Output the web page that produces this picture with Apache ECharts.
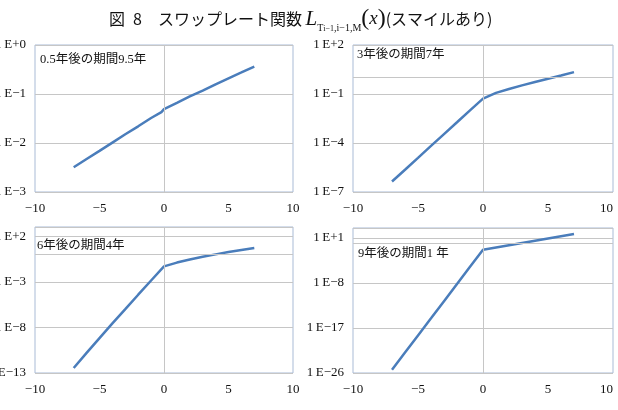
<!DOCTYPE html>
<html>
<head>
<meta charset="utf-8">
<script src="https://cdn.jsdelivr.net/npm/echarts@6/dist/echarts.min.js"></script>
<style>
html,body{margin:0;padding:0;background:#fff;}
#chart{width:618px;height:410px;}
</style>
</head>
<body>
<div id="chart"></div>
<script>
// x values (shared) and panel-1 x values (includes the small step just before 0)
var xs = [-7, -6, -5, -4, -3, -2, -1, 0, 1, 2, 3, 4, 5, 6, 7];
var xs1 = [-7, -6, -5, -4, -3, -2, -1, -0.2, 0, 1, 2, 3, 4, 5, 6, 7];

// panel titles
var panelLabels = ['0.5年後の期間9.5年', '3年後の期間7年', '6年後の期間4年', '9年後の期間1 年'];

// series values
var vals1 = [0.0032, 0.0047, 0.0069, 0.0102, 0.0151, 0.0219, 0.0324, 0.0427, 0.049, 0.066, 0.089, 0.117, 0.158, 0.209, 0.275, 0.363];
var vals2 = [4.4e-7, 2.3e-6, 1.23e-5, 6.6e-5, 3.5e-4, 1.86e-3, 1.0e-2, 5.2e-2, 0.117, 0.204, 0.339, 0.537, 0.85, 1.35, 2.19];
var vals3 = [3.5e-13, 1.6e-11, 6.6e-10, 2.7e-8, 1.0e-6, 3.8e-5, 1.38e-3, 4.9e-2, 0.126, 0.269, 0.537, 1.0, 1.78, 3.02, 5.01];
var vals4 = [4.4e-26, 1.2e-22, 3.2e-19, 8.5e-16, 2.3e-12, 6.2e-9, 1.7e-5, 4.5e-2, 0.126, 0.355, 1.0, 2.82, 7.94, 22.4, 63.1];

// axis settings
var xTicks = [-10, -5, 0, 5, 10];
var yMin = [1e-3, 1e-7, 1e-13, 1e-26];
var yMax = [1e0, 1e2, 1e3, 1e3];
var yStepDecades = [1, 3, 5, 9];
var refX = 0;   // vertical reference line
var refY = 1;   // horizontal reference line (1E+0)

var serif = '"Liberation Serif", "Times New Roman", serif';
var mixed = '"Liberation Serif", "Noto Sans CJK JP", serif';

var grids = [
  {left: 35, top: 45, width: 258, height: 147},
  {left: 353, top: 45, width: 260, height: 147},
  {left: 35, top: 227, width: 258, height: 146},
  {left: 353, top: 228, width: 260, height: 145}
];
var labelPos = [[40, 61], [357, 56], [37, 247], [358, 255]];

// panel 4 spans 29 decades; ECharts' log scale rounds ticks below 1e-10 to 0,
// so that panel uses a value axis over log10 of the same values.
var useExp = [false, false, false, true];

function fmtX(v) { return v < 0 ? '\u2212' + (-v) : '' + v; }
function expLabel(e) { return '1\u2009E' + (e >= 0 ? '+' : '\u2212') + Math.abs(e); }
function fmtY(v) { return expLabel(Math.round(Math.log10(v))); }
function fmtYexp(v) { return expLabel(Math.round(v)); }

var allVals = [vals1, vals2, vals3, vals4];
var allXs = [xs1, xs, xs, xs];
var seriesData = allVals.map(function (vals, p) {
  return allXs[p].map(function (x, i) {
    return [x, useExp[p] ? Math.log10(vals[i]) : vals[i]];
  });
});

var option = {
  animation: false,
  backgroundColor: '#fff',
  title: {
    left: 104, top: 0,
    text: '{a|図\u20028\u3000スワップレート関数 }{L|L}{s|T}{ss|i\u22121}{s|,i\u22121,M}{p|(}{x|x}{p|)}{a|(スマイルあり)}',
    textStyle: {
      fontWeight: 'normal',
      rich: {
        a: {fontSize: 16, fontWeight: 'normal', fontFamily: '"Noto Sans CJK JP", sans-serif', color: '#111', lineHeight: 28},
        L: {fontSize: 21, fontWeight: 'normal', fontStyle: 'italic', fontFamily: serif, color: '#111', lineHeight: 28},
        s: {fontSize: 10, fontWeight: 'normal', fontFamily: serif, color: '#111', verticalAlign: 'bottom', lineHeight: 14},
        ss: {fontSize: 8, fontWeight: 'normal', fontFamily: serif, color: '#111', verticalAlign: 'bottom', lineHeight: 8},
        p: {fontSize: 24, fontWeight: 'normal', fontFamily: serif, color: '#111', lineHeight: 28},
        x: {fontSize: 19, fontWeight: 'normal', fontStyle: 'italic', fontFamily: serif, color: '#111', lineHeight: 28}
      }
    }
  },
  grid: grids.map(function (g) {
    return Object.assign({show: true, borderColor: '#a9bbd6', borderWidth: 1, backgroundColor: '#fff',
                          containLabel: false, outerBoundsMode: 'none'}, g);
  }),
  xAxis: grids.map(function (g, i) {
    var lbl = {formatter: fmtX, fontFamily: serif, fontSize: 13, color: '#111', margin: 10};
    if (i % 2 === 1) { lbl.alignMaxLabel = 'right'; }
    return {
      type: 'value', gridIndex: i,
      min: xTicks[0], max: xTicks[xTicks.length - 1], interval: xTicks[1] - xTicks[0],
      axisLine: {show: false}, axisTick: {show: false},
      splitLine: {show: false},
      axisLabel: lbl
    };
  }),
  yAxis: grids.map(function (g, i) {
    var base = {
      gridIndex: i,
      axisLine: {show: false}, axisTick: {show: false},
      splitLine: {show: true, lineStyle: {color: '#c6c6c6', width: 1}},
      axisLabel: {formatter: useExp[i] ? fmtYexp : fmtY, fontFamily: serif, fontSize: 13, color: '#111', margin: 9,
                  showMaxLabel: (i < 2)}
    };
    if (useExp[i]) {
      base.type = 'value';
      base.min = Math.round(Math.log10(yMin[i]));
      base.max = Math.round(Math.log10(yMax[i]));
      base.interval = yStepDecades[i];
    } else {
      base.type = 'log';
      base.logBase = 10;
      base.min = yMin[i];
      base.max = yMax[i];
      base.interval = yStepDecades[i];
    }
    return base;
  }),
  series: seriesData.map(function (d, i) {
    return {
      type: 'line', xAxisIndex: i, yAxisIndex: i, data: d,
      showSymbol: false, symbol: 'none', smooth: false,
      lineStyle: {color: '#4a7dbb', width: 2.5},
      markLine: {
        silent: true, symbol: 'none', animation: false,
        label: {show: false},
        lineStyle: {color: '#c6c6c6', width: 1, type: 'solid'},
        data: [{xAxis: refX}, {yAxis: useExp[i] ? Math.log10(refY) : refY}]
      },
      z: 3
    };
  }),
  graphic: panelLabels.map(function (t, i) {
    return {
      type: 'text', left: labelPos[i][0], top: labelPos[i][1] - 8, z: 10,
      style: {text: t, font: '12.5px ' + mixed, fill: '#111'}
    };
  })
};

var chart = echarts.init(document.getElementById('chart'), null, {renderer: 'canvas'});
chart.setOption(option);
</script>
</body>
</html>
